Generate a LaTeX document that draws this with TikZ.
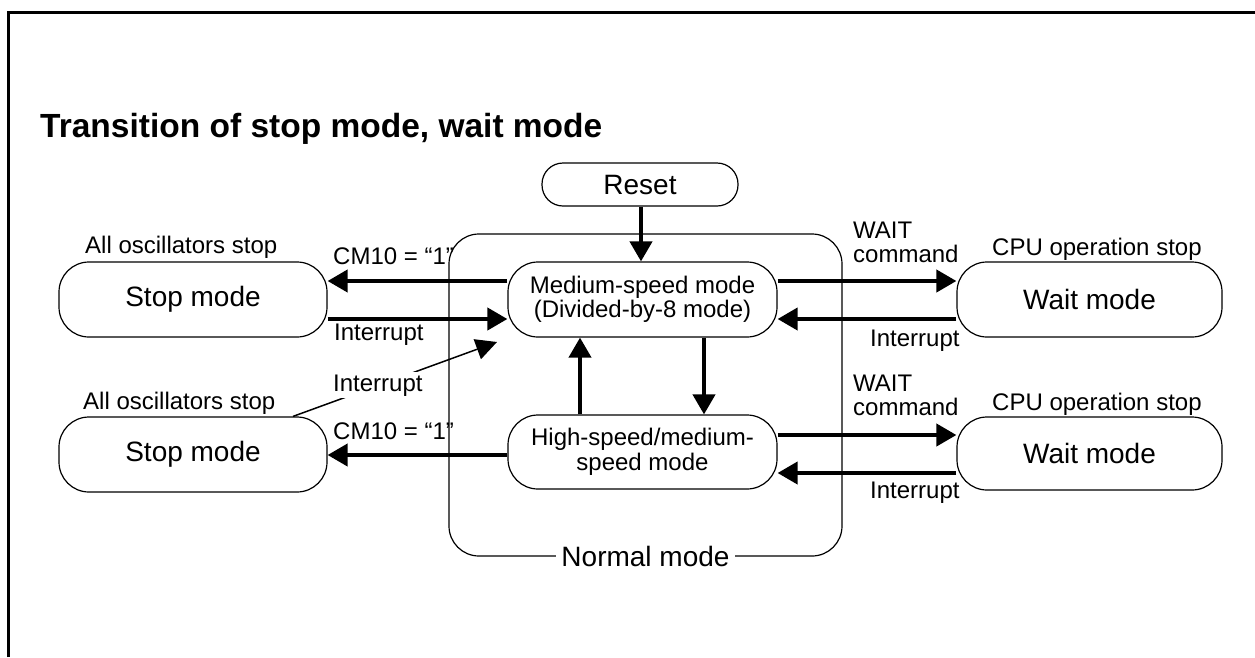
\documentclass[tikz,border=0pt]{standalone}
\usepackage{fontspec}
\setmainfont{Liberation Sans}
\usetikzlibrary{arrows.meta,backgrounds,calc}
\begin{document}
\begin{tikzpicture}[x=1pt,y=-1pt,
  box/.style={draw,line width=1.2pt,fill=white,inner sep=0pt,align=center},
  bigtxt/.style={font=\fontsize{28}{30}\selectfont},
  midtxt/.style={font=\fontsize{24}{24.5}\selectfont},
  lbl/.style={font=\fontsize{24}{19}\selectfont,inner sep=0pt,anchor=base west},
  arr/.style={line width=4pt,-{Triangle[length=20pt,width=22pt]}},
]
\useasboundingbox (0,0) rectangle (1255,657);
\draw[line width=3pt] (8.8,657) -- (8.8,12.5) -- (1255,12.5);

\node[font=\fontsize{33.5}{36}\selectfont\bfseries,anchor=base west,inner sep=0pt] (title) at (40,137) {Transition of stop mode, wait mode};

% normal mode container
\node[draw,line width=1.2pt,rounded corners=30pt,minimum width=393pt,minimum height=322pt,inner sep=0pt] (normal) at (645.5,395) {};
\node[bigtxt,fill=white,inner sep=5pt] (normallbl) at (normal.south) {Normal mode};

% states
\node[box,bigtxt,rounded corners=21pt,minimum width=196pt,minimum height=43pt] (reset) at (640,184.5) {Reset};
\node[box,midtxt,rounded corners=30pt,minimum width=269pt,minimum height=75pt] (med) at (642.5,299.5) {Medium-speed mode\\(Divided-by-8 mode)};
\node[box,midtxt,rounded corners=30pt,minimum width=269pt,minimum height=74pt] (high) at (642.5,452) {High-speed/medium-\\speed mode};
\node[box,bigtxt,rounded corners=30pt,minimum width=268pt,minimum height=75pt] (stop1) at (193,299.5) {Stop mode};
\node[box,bigtxt,rounded corners=30pt,minimum width=268pt,minimum height=75pt] (stop2) at (193,454.5) {Stop mode};
\node[box,bigtxt,rounded corners=30pt,minimum width=265pt,minimum height=75pt] (wait1) at (1089.5,299.5) {Wait mode};
\node[box,bigtxt,rounded corners=30pt,minimum width=265pt,minimum height=73pt] (wait2) at (1089.5,453.5) {Wait mode};

% labels
\node[lbl] (osc1) at (85,253) {All oscillators stop};
\node[lbl] (osc2) at (83,409) {All oscillators stop};
\node[lbl] (cpu1) at (992,255) {CPU operation stop};
\node[lbl] (cpu2) at (992,410) {CPU operation stop};
\node[lbl] (cm1) at (333,264) {CM10 = “1”};
\node[lbl] (cm2) at (333,439) {CM10 = “1”};
\node[lbl] (int1) at (334,340) {Interrupt};
\node[lbl] (int3) at (870,346) {Interrupt};
\node[lbl] (int4) at (870,498) {Interrupt};
\node[lbl] (wc1) at (853,262) {\begin{tabular}[b]{@{}l@{}}WAIT\\command\end{tabular}};
\node[lbl] (wc2) at (853,415) {\begin{tabular}[b]{@{}l@{}}WAIT\\command\end{tabular}};
\node[lbl,fill=white,inner sep=2pt] (int2) at (331,391) {Interrupt};

\coordinate (itip) at (497,342);

\begin{scope}[on background layer]
\draw[arr] (reset.south -| 641,0) -- (med.north -| 641,0);
\draw[arr] (med.west |- 0,281) -- (stop1.east |- 0,281);
\draw[arr] (stop1.east |- 0,319) -- (med.west |- 0,319);
\draw[line width=1.5pt,-{Triangle[length=21pt,width=21pt]}] ([xshift=100pt]stop2.north) -- (itip);
\draw[arr] (high.west |- 0,455) -- (stop2.east |- 0,455);
\draw[arr] (med.south -| 704,0) -- (high.north -| 704,0);
\draw[arr] (high.north -| 580,0) -- (med.south -| 580,0);
\draw[arr] (med.east |- 0,281) -- (wait1.west |- 0,281);
\draw[arr] (wait1.west |- 0,319) -- (med.east |- 0,319);
\draw[arr] (high.east |- 0,435) -- (wait2.west |- 0,435);
\draw[arr] (wait2.west |- 0,473) -- (high.east |- 0,473);
\end{scope}
\end{tikzpicture}
\end{document}
